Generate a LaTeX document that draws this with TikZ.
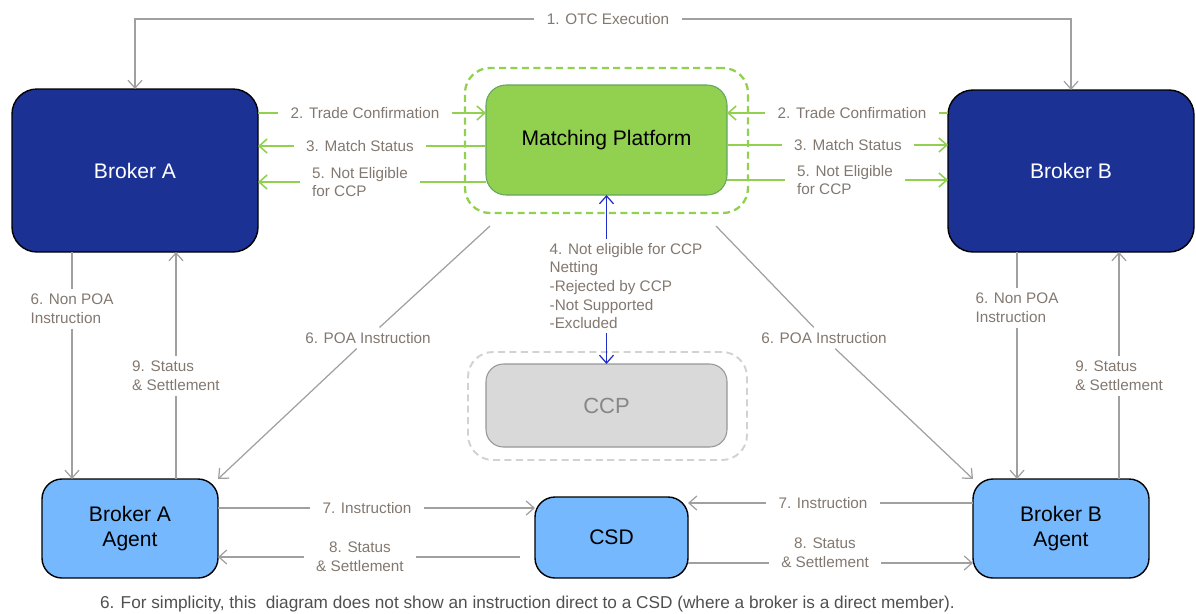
\documentclass[tikz,border=0pt]{standalone}
\usepackage{fontspec}
\setmainfont{Liberation Sans}
\usetikzlibrary{arrows.meta}

\definecolor{brokerblue}{RGB}{27,50,148}
\definecolor{agentblue}{RGB}{117,184,253}
\definecolor{mpgreen}{RGB}{146,208,80}
\definecolor{mpedge}{RGB}{100,165,95}
\definecolor{ccpgray}{RGB}{217,217,217}
\definecolor{ccpedge}{RGB}{150,150,150}
\definecolor{zonegray}{RGB}{210,210,210}
\definecolor{linkgray}{RGB}{160,160,160}
\definecolor{labelgray}{RGB}{130,120,112}
\definecolor{linkblue}{RGB}{30,45,200}
\definecolor{notegray}{RGB}{80,80,80}

\begin{document}
\begin{tikzpicture}[x=0.02cm, y=-0.02cm,
  every node/.style={outer sep=0pt},
  boxsize/.style 2 args={minimum width=#1*0.02cm, minimum height=#2*0.02cm},
  broker/.style={draw=black, line width=0.8pt, fill=brokerblue, rounded corners=0.5cm, text=white, font=\fontsize{12}{14.2}\selectfont},
  agent/.style={draw=black, line width=0.8pt, fill=agentblue, rounded corners=0.4cm, align=center, font=\fontsize{12}{14.2}\selectfont},
  platform/.style={draw=mpedge, line width=0.6pt, fill=mpgreen, rounded corners=0.4cm, font=\fontsize{12}{14.2}\selectfont},
  ccpbox/.style={draw=ccpedge, line width=0.6pt, fill=ccpgray, rounded corners=0.35cm, text=ccpedge!90!black, font=\fontsize{12.5}{14.2}\selectfont},
  greenzone/.style={draw=mpgreen, line width=1.3pt, dash pattern=on 4pt off 2.5pt, rounded corners=0.5cm},
  grayzone/.style={draw=zonegray, line width=1.1pt, dash pattern=on 4pt off 2.5pt, rounded corners=0.5cm},
  lbl/.style={text=labelgray, font=\fontsize{8.7}{10.6}\selectfont, inner xsep=0.25cm, inner ysep=0.1cm},
  note/.style={text=notegray, font=\fontsize{9.8}{11}\selectfont, inner sep=0pt},
  graylink/.style={draw=linkgray, line width=0.7pt},
  greenlink/.style={draw=mpgreen, line width=0.9pt},
  bluelink/.style={draw=linkblue, line width=0.7pt},
  >={Straight Barb[length=4.5pt,width=8pt]}]
\useasboundingbox (0,0) rectangle (1196,613);

\node[greenzone, boxsize={283}{145}] (mpzone) at (606.5,140.5) {};
\node[grayzone, boxsize={279}{108}] (ccpzone) at (607.5,406) {};

\node[broker, boxsize={246}{163}] (brokerA) at (135,170.5) {Broker A};
\node[broker, boxsize={246}{162}] (brokerB) at (1071,171) {Broker B};
\node[platform, boxsize={241}{110}] (mp) at (606.5,140) {Matching Platform};
\node[ccpbox, boxsize={241}{83}] (ccp) at (606.5,405.5) {CCP};
\node[agent, boxsize={176}{99}] (agentA) at (130,528.5) {Broker A\\Agent};
\node[agent, boxsize={153}{81}] (csd) at (611.5,537.5) {CSD};
\node[agent, boxsize={176}{99}] (agentB) at (1061,528.5) {Broker B\\Agent};

\node[lbl] (otc) at (608,19) {1. OTC Execution};
\node[lbl] (tcA) at (365,113) {2. Trade Confirmation};
\node[lbl] (tcB) at (852,113) {2. Trade Confirmation};
\node[lbl] (msA) at (360,146) {3. Match Status};
\node[lbl] (msB) at (848,145) {3. Match Status};
\node[lbl, align=left] (neA) at (360,182) {5. Not Eligible\\for CCP};
\node[lbl, align=left] (neB) at (845,180) {5. Not Eligible\\for CCP};
\node[lbl, align=left, inner ysep=0.08cm] (lbl4) at (626,286) {4. Not eligible for CCP\\Netting\\-Rejected by CCP\\-Not Supported\\-Excluded};
\node[lbl] (poaA) at (368,338) {6. POA Instruction};
\node[lbl] (poaB) at (824,338) {6. POA Instruction};
\node[lbl, align=left] (nonA) at (72,309) {6. Non POA\\Instruction};
\node[lbl, align=left] (nonB) at (1017,308) {6. Non POA\\Instruction};
\node[lbl, align=left] (stA) at (176,376) {9. Status\\\& Settlement};
\node[lbl, align=left] (stB) at (1119,376) {9. Status\\\& Settlement};
\node[lbl] (insA) at (367,508) {7. Instruction};
\node[lbl] (insB) at (823,503) {7. Instruction};
\node[lbl, align=center] (st8A) at (360,557) {8. Status\\\& Settlement};
\node[lbl, align=center] (st8B) at (825,553) {8. Status\\\& Settlement};
\coordinate (ln8B) at (825,563);
\coordinate (poaAstart) at (490,226);
\coordinate (poaBstart) at (716,226);

\node[note, anchor=west] (footnote) at (100,604) {6. For simplicity, this~ diagram does not show an instruction direct to a CSD (where a broker is a direct member).};

\draw[graylink,<-] (brokerA.north) |- (otc);
\draw[graylink,->] (otc) -| (brokerB.north);

\draw[greenlink] (brokerA.east |- tcA) -- (tcA);
\draw[greenlink,->] (tcA) -- (mp.west |- tcA);
\draw[greenlink] (brokerB.west |- tcB) -- (tcB);
\draw[greenlink,->] (tcB) -- (mp.east |- tcB);
\draw[greenlink] (mp.west |- msA) -- (msA);
\draw[greenlink,->] (msA) -- (brokerA.east |- msA);
\draw[greenlink] (mp.east |- msB) -- (msB);
\draw[greenlink,->] (msB) -- (brokerB.west |- msB);
\draw[greenlink] (mp.west |- neA) -- (neA);
\draw[greenlink,->] (neA) -- (brokerA.east |- neA);
\draw[greenlink] (mp.east |- neB) -- (neB);
\draw[greenlink,->] (neB) -- (brokerB.west |- neB);

\draw[bluelink,->] (lbl4.north -| mp.south) -- (mp.south);
\draw[bluelink,->] (lbl4.south -| mp.south) -- (ccp.north);

\draw[graylink] (poaAstart) -- (poaA);
\draw[graylink,->] (poaA) -- (agentA.north east);
\draw[graylink] (poaBstart) -- (poaB);
\draw[graylink,->] (poaB) -- (agentB.north west);

\draw[graylink] (brokerA.south -| nonA) -- (nonA);
\draw[graylink,->] (nonA) -- (agentA.north -| nonA);
\draw[graylink] (agentA.north -| stA) -- (stA);
\draw[graylink,->] (stA) -- (brokerA.south -| stA);
\draw[graylink] (brokerB.south -| nonB) -- (nonB);
\draw[graylink,->] (nonB) -- (agentB.north -| nonB);
\draw[graylink] (agentB.north -| stB) -- (stB);
\draw[graylink,->] (stB) -- (brokerB.south -| stB);

\draw[graylink] (agentA.east |- insA) -- (insA);
\draw[graylink,->] (insA) -- (csd.west |- insA);
\draw[graylink] (agentB.west |- insB) -- (insB);
\draw[graylink,->] (insB) -- (csd.east |- insB);
\draw[graylink, shorten <=0.3cm] (csd.west |- st8A) -- (st8A);
\draw[graylink,->] (st8A) -- (agentA.east |- st8A);
\draw[graylink] (csd.east |- ln8B) -- (st8B.west |- ln8B);
\draw[graylink,->] (st8B.east |- ln8B) -- (agentB.west |- ln8B);
\end{tikzpicture}
\end{document}
